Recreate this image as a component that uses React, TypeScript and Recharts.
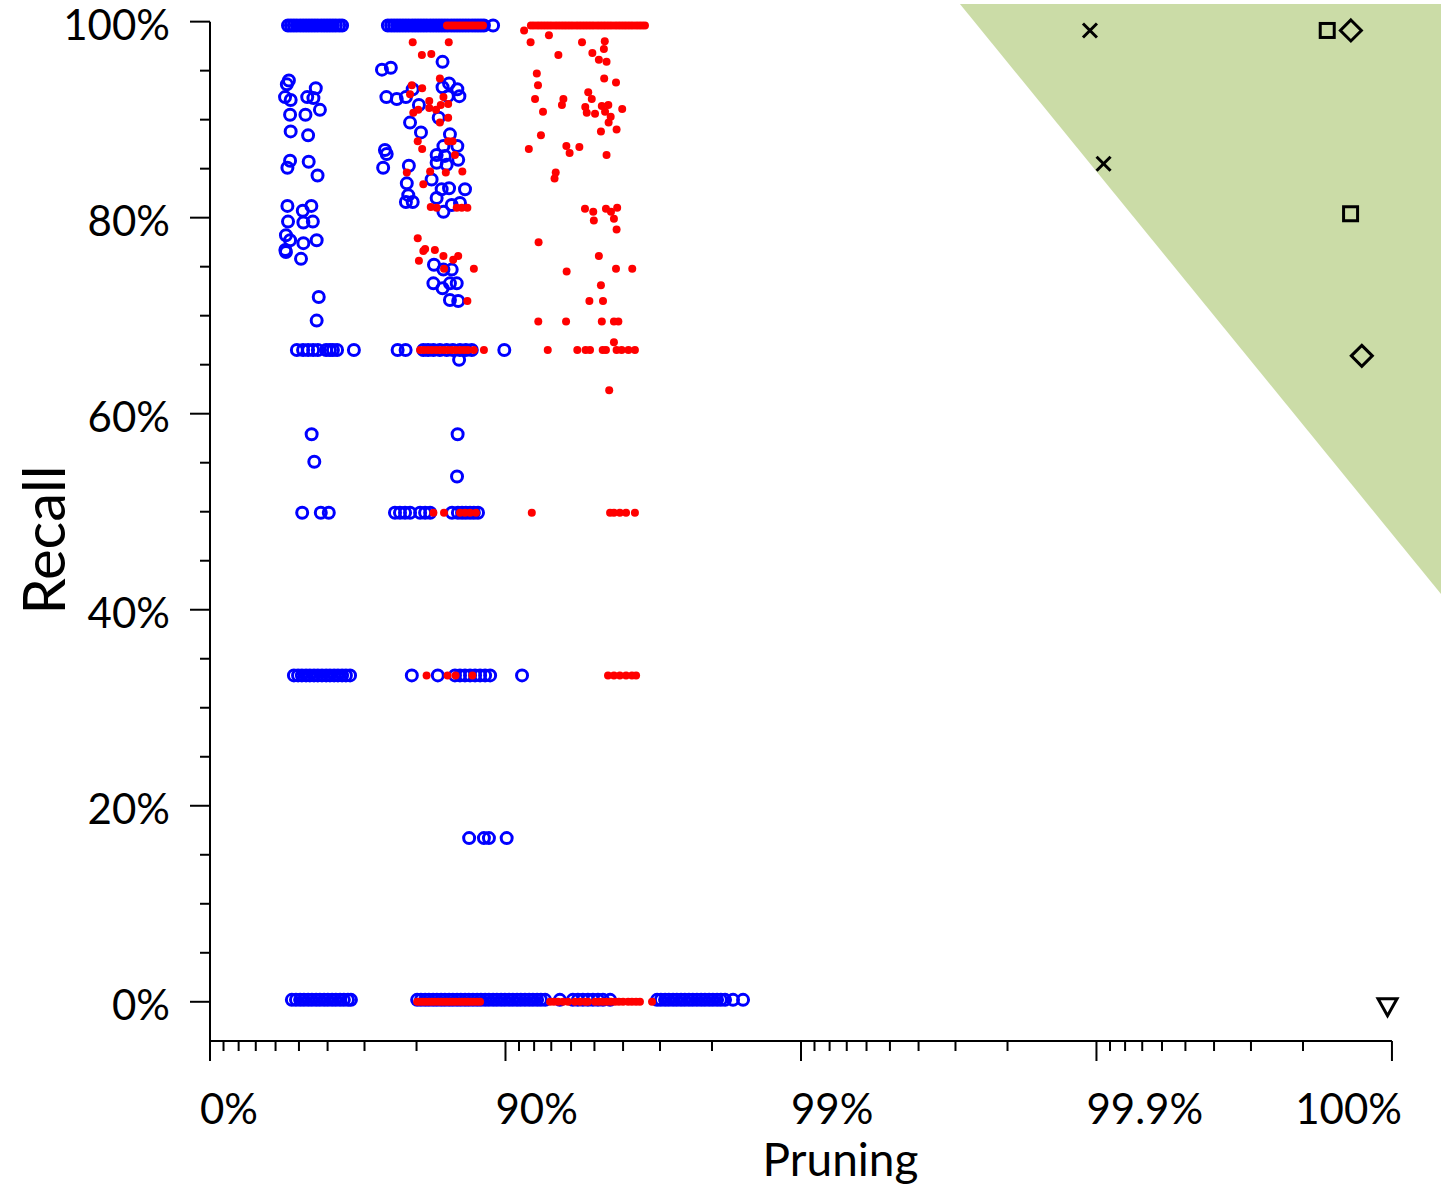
import { ScatterChart, Scatter, XAxis, YAxis, ReferenceArea, ReferenceLine } from 'recharts';

// x values are "nines" of pruning: 0 -> 0%, 1 -> 90%, 2 -> 99%, 3 -> 99.9%, 4 -> 100%
const majorTicks = [0, 1, 2, 3, 4];
const majorLabels = ['0%', '90%', '99%', '99.9%', '100%'];
const minorSteps = [0.1, 0.2, 0.3, 0.4, 0.5, 0.6, 0.7, 0.8];
const recallTicks = [0, 5, 10, 15, 20, 25, 30, 35, 40, 45, 50, 55, 60, 65, 70, 75, 80, 85, 90, 95, 100];

// recall levels of the horizontal bands
const TOP = 99.6;
const TWO_THIRDS = 66.5;
const HALF = 49.9;
const THIRD = 33.3;
const SIXTH = 16.7;
const ZERO_BLUE = 0.2;
const ZERO_RED = 0;

// blue open circles
const blueTop = [0.264, 0.274, 0.284, 0.294, 0.305, 0.315, 0.325, 0.335, 0.345, 0.355, 0.365, 0.376, 0.386, 0.396, 0.406, 0.416, 0.426, 0.437, 0.447, 0.602, 0.613, 0.623, 0.633, 0.643, 0.653, 0.663, 0.673, 0.684, 0.694, 0.704, 0.714, 0.724, 0.734, 0.745, 0.755, 0.765, 0.775, 0.785, 0.795, 0.805, 0.816, 0.826, 0.836, 0.846, 0.856, 0.866, 0.876, 0.887, 0.897, 0.907, 0.917, 0.927, 0.958];
const blueTwoThirds = [0.294, 0.315, 0.332, 0.349, 0.365, 0.393, 0.406, 0.416, 0.430, 0.487, 0.635, 0.662, 0.722, 0.738, 0.756, 0.778, 0.801, 0.822, 0.846, 0.866, 0.886, 0.996];
const blueHalf = [0.312, 0.375, 0.402, 0.626, 0.643, 0.660, 0.677, 0.711, 0.728, 0.745, 0.819, 0.839, 0.853, 0.866, 0.880, 0.893, 0.907];
const blueThird = [0.284, 0.298, 0.311, 0.325, 0.338, 0.352, 0.365, 0.379, 0.393, 0.406, 0.420, 0.433, 0.447, 0.460, 0.474, 0.683, 0.771, 0.829, 0.846, 0.863, 0.880, 0.897, 0.914, 0.931, 0.948, 1.056];
const blueSixth = [0.877, 0.927, 0.944, 1.004];
const blueZero = [0.277, 0.291, 0.305, 0.318, 0.332, 0.345, 0.359, 0.372, 0.386, 0.399, 0.413, 0.426, 0.440, 0.453, 0.467, 0.477, 0.701, 0.714, 0.728, 0.741, 0.755, 0.768, 0.782, 0.795, 0.809, 0.822, 0.836, 0.849, 0.863, 0.876, 0.890, 0.904, 0.917, 0.931, 0.944, 0.958, 0.971, 0.985, 0.998, 1.012, 1.025, 1.039, 1.052, 1.066, 1.080, 1.093, 1.107, 1.120, 1.134, 1.184, 1.228, 1.245, 1.262, 1.279, 1.296, 1.313, 1.330, 1.354, 1.513, 1.526, 1.540, 1.553, 1.567, 1.580, 1.594, 1.607, 1.621, 1.634, 1.648, 1.662, 1.675, 1.689, 1.702, 1.716, 1.729, 1.743, 1.770, 1.804];
const blueScatter: [number, number][] = [
  [0.267, 94.0], [0.260, 93.6], [0.254, 92.3], [0.273, 92.0], [0.271, 90.5], [0.273, 88.8], [0.271, 85.8], [0.262, 85.1],
  [0.358, 93.2], [0.329, 92.3], [0.350, 92.2], [0.372, 91.0], [0.323, 90.5], [0.332, 88.4], [0.334, 85.7], [0.364, 84.3],
  [0.262, 81.2], [0.314, 80.7], [0.343, 81.2], [0.264, 79.6], [0.316, 79.5], [0.348, 79.6], [0.257, 78.2], [0.271, 77.7],
  [0.316, 77.4], [0.361, 77.7], [0.255, 76.7], [0.308, 75.8], [0.257, 76.5], [0.368, 71.9], [0.361, 69.5], [0.344, 57.9], [0.353, 55.1],
  [0.582, 95.1], [0.612, 95.3], [0.787, 95.9], [0.597, 92.3], [0.632, 92.1], [0.663, 92.3], [0.686, 93.1], [0.707, 91.5],
  [0.677, 89.7], [0.714, 88.7], [0.774, 90.2], [0.809, 93.7], [0.787, 93.3], [0.837, 93.1], [0.844, 92.4], [0.805, 92.4],
  [0.592, 86.9], [0.598, 86.5], [0.586, 85.1], [0.673, 85.3], [0.812, 88.5], [0.790, 87.3], [0.837, 87.3], [0.767, 86.4],
  [0.795, 86.3], [0.840, 85.9], [0.767, 85.6], [0.801, 85.4], [0.666, 83.5], [0.750, 83.9], [0.784, 82.9], [0.809, 83.0],
  [0.863, 82.9], [0.671, 82.3], [0.767, 82.0], [0.663, 81.6], [0.686, 81.6], [0.818, 81.3], [0.846, 81.5], [0.790, 80.6],
  [0.758, 75.2], [0.790, 74.7], [0.756, 73.3], [0.787, 72.8], [0.812, 73.3], [0.835, 73.3], [0.812, 71.6], [0.840, 71.5],
  [0.818, 74.7], [0.843, 65.5], [0.838, 57.9], [0.836, 53.6],
];

// red filled dots
const redTop = [0.802, 0.812, 0.822, 0.832, 0.843, 0.853, 0.863, 0.873, 0.883, 0.893, 0.904, 0.914, 0.924, 1.086, 1.096, 1.107, 1.117, 1.127, 1.137, 1.147, 1.157, 1.168, 1.178, 1.188, 1.198, 1.208, 1.218, 1.228, 1.239, 1.249, 1.259, 1.269, 1.279, 1.289, 1.299, 1.310, 1.320, 1.330, 1.340, 1.350, 1.360, 1.371, 1.381, 1.391, 1.401, 1.411, 1.421, 1.431, 1.442, 1.452, 1.462, 1.472];
const redTwoThirds = [0.711, 0.724, 0.738, 0.751, 0.765, 0.778, 0.792, 0.805, 0.819, 0.832, 0.846, 0.860, 0.873, 0.893, 0.927, 1.143, 1.243, 1.271, 1.286, 1.329, 1.340, 1.376, 1.393, 1.416, 1.438];
const redHalf = [0.756, 0.792, 0.846, 0.863, 0.880, 0.900, 1.089, 1.354, 1.367, 1.387, 1.408, 1.438];
const redThird = [0.733, 0.804, 0.831, 0.888, 1.347, 1.367, 1.387, 1.408, 1.428, 1.442];
const redZero = [0.701, 0.711, 0.721, 0.731, 0.741, 0.751, 0.761, 0.772, 0.782, 0.792, 0.802, 0.812, 0.822, 0.832, 0.843, 0.853, 0.863, 0.873, 0.883, 0.893, 0.904, 0.914, 1.151, 1.164, 1.178, 1.195, 1.212, 1.235, 1.252, 1.269, 1.279, 1.303, 1.316, 1.330, 1.343, 1.357, 1.371, 1.384, 1.398, 1.415, 1.428, 1.442, 1.455, 1.496];
const redScatter: [number, number][] = [
  [1.063, 99.1],
  [0.686, 97.9], [0.808, 97.9], [0.717, 96.6], [0.749, 96.7], [0.778, 94.2], [0.683, 93.5], [0.718, 93.2], [0.677, 92.6],
  [0.742, 91.9], [0.742, 91.2], [0.790, 92.3], [0.781, 91.5], [0.806, 91.6], [0.705, 91.0], [0.688, 90.7], [0.765, 91.0],
  [0.806, 90.2], [0.778, 89.7], [0.703, 87.8], [0.718, 87.0], [0.806, 87.8], [0.821, 87.8], [0.829, 86.4], [0.666, 84.6],
  [0.745, 84.7], [0.798, 84.6], [0.854, 84.7], [0.722, 83.4], [0.747, 81.1], [0.767, 81.0], [0.835, 81.0], [0.852, 81.0],
  [0.871, 81.0], [0.703, 77.9], [0.728, 76.8], [0.761, 76.7], [0.790, 76.1], [0.840, 76.1], [0.707, 75.6], [0.722, 76.6],
  [0.823, 75.7], [0.893, 74.8], [0.871, 71.5], [0.792, 74.8],
  [1.085, 97.9], [1.147, 98.6], [1.259, 97.9], [1.336, 98.0], [1.333, 97.2], [1.179, 96.6], [1.294, 96.8], [1.316, 96.1],
  [1.342, 95.9], [1.106, 94.7], [1.334, 94.2], [1.374, 93.8], [1.110, 93.5], [1.100, 92.1], [1.196, 92.1], [1.191, 91.5],
  [1.280, 92.8], [1.292, 92.1], [1.270, 91.3], [1.275, 90.7], [1.303, 90.6], [1.326, 91.4], [1.348, 91.5], [1.337, 90.8],
  [1.356, 90.3], [1.349, 89.7], [1.395, 91.1], [1.127, 90.8], [1.323, 88.8], [1.376, 89.0], [1.120, 88.4], [1.079, 87.0],
  [1.206, 87.3], [1.217, 86.6], [1.250, 87.2], [1.342, 86.4], [1.170, 84.6], [1.166, 84.0], [1.269, 80.9], [1.297, 80.6],
  [1.299, 79.7], [1.340, 80.9], [1.357, 80.6], [1.378, 81.0], [1.367, 79.9], [1.376, 78.8], [1.112, 77.5], [1.316, 76.1],
  [1.207, 74.5], [1.374, 74.8], [1.429, 74.8], [1.323, 73.1], [1.284, 71.5], [1.330, 71.5], [1.111, 69.4], [1.205, 69.4],
  [1.326, 69.4], [1.367, 69.4], [1.382, 69.4], [1.367, 67.3], [1.351, 62.4],
];

// black reference methods
const crossPts: [number, number][] = [[2.978, 99.1], [3.024, 85.5]];
const squarePts: [number, number][] = [[3.781, 99.1], [3.860, 80.4]];
const diamondPts: [number, number][] = [[3.861, 99.1], [3.898, 65.9]];
const trianglePts: [number, number][] = [[3.985, -0.5]];

// green target region (triangle): left x, bottom recall
const greenLeft = 2.538;
const greenBottom = 41.6;

const X_MAX = 4.166;
const Y_MIN = -4;
const Y_MAX = 101.8;

const FONT = 'Lato, "Open Sans", sans-serif';

const row = (xs: number[], y: number) => xs.map((x) => ({ x, y }));
const pairs = (ps: [number, number][]) => ps.map(([x, y]) => ({ x, y }));

const bluePoints = [
  ...row(blueTop, TOP), ...row(blueTwoThirds, TWO_THIRDS), ...row(blueHalf, HALF),
  ...row(blueThird, THIRD), ...row(blueSixth, SIXTH), ...row(blueZero, ZERO_BLUE), ...pairs(blueScatter),
];
const redPoints = [
  ...row(redTop, TOP), ...row(redTwoThirds, TWO_THIRDS), ...row(redHalf, HALF),
  ...row(redThird, THIRD), ...row(redZero, ZERO_RED), ...pairs(redScatter),
];

const xTicks = majorTicks.flatMap((d) =>
  d < 4 ? [d, ...minorSteps.map((s) => d - Math.log10(1 - s))] : [d]
);

function XTick(props: any) {
  const { x, y, payload } = props;
  const i = majorTicks.indexOf(payload.value);
  const major = i >= 0;
  const last = i === majorTicks.length - 1;
  return (
    <g>
      <line x1={x} x2={x} y1={y} y2={y + (major ? 20 : 10)} stroke="#000" strokeWidth={2} />
      {major && (
        <text x={last ? x + 10 : x - 10} y={y + 83} textAnchor={last ? 'end' : 'start'}
          fontFamily={FONT} fontSize={42} fill="#000">
          {majorLabels[i]}
        </text>
      )}
    </g>
  );
}

function YTick(props: any) {
  const { x, y, payload } = props;
  const major = payload.value % 20 === 0;
  return (
    <g>
      <line x1={x - (major ? 20 : 10)} x2={x} y1={y} y2={y} stroke="#000" strokeWidth={2} />
      {major && (
        <text x={x - 40} y={y + 18} textAnchor="end" fontFamily={FONT} fontSize={42} fill="#000">
          {payload.value}%
        </text>
      )}
    </g>
  );
}

const BlueCircle = (p: any) => (
  <circle cx={p.cx} cy={p.cy} r={5.5} fill="none" stroke="#0000FF" strokeWidth={3} />
);
const RedDot = (p: any) => <circle cx={p.cx} cy={p.cy} r={4} fill="#FF0000" />;
const Cross = (p: any) => (
  <g stroke="#000" strokeWidth={3}>
    <line x1={p.cx - 7} y1={p.cy - 7} x2={p.cx + 7} y2={p.cy + 7} />
    <line x1={p.cx - 7} y1={p.cy + 7} x2={p.cx + 7} y2={p.cy - 7} />
  </g>
);
const Square = (p: any) => (
  <rect x={p.cx - 7} y={p.cy - 7} width={14} height={14} fill="none" stroke="#000" strokeWidth={3} />
);
const Diamond = (p: any) => (
  <polygon
    points={`${p.cx},${p.cy - 10.5} ${p.cx + 10.5},${p.cy} ${p.cx},${p.cy + 10.5} ${p.cx - 10.5},${p.cy}`}
    fill="none" stroke="#000" strokeWidth={3}
  />
);
const TriangleDown = (p: any) => (
  <polygon
    points={`${p.cx - 9.5},${p.cy - 8} ${p.cx + 9.5},${p.cy - 8} ${p.cx},${p.cy + 9}`}
    fill="none" stroke="#000" strokeWidth={3}
  />
);
const GreenTriangle = (p: any) => (
  <polygon
    points={`${p.x},${p.y} ${p.x + p.width},${p.y} ${p.x + p.width},${p.y + p.height}`}
    fill="#CBDCA7"
  />
);

export default function App() {
  return (
    <div style={{ position: 'absolute', left: 0, top: 0, background: '#fff' }}>
      <ScatterChart width={1441} height={1186} margin={{ top: 4, right: 0, bottom: 0, left: 0 }}>
        <XAxis
          type="number"
          dataKey="x"
          domain={[0, X_MAX]}
          ticks={xTicks}
          interval={0}
          allowDataOverflow
          axisLine={false}
          tickLine={false}
          tickSize={0}
          tickMargin={0}
          height={145}
          tick={<XTick />}
          label={{
            content: (lp: any) => (
              <text x={lp.viewBox.x + lp.viewBox.width / 2 + 15} y={lp.viewBox.y + lp.viewBox.height - 10}
                textAnchor="middle" fontFamily={FONT} fontSize={46} fill="#000">
                Pruning
              </text>
            ),
          }}
        />
        <YAxis
          type="number"
          dataKey="y"
          domain={[Y_MIN, Y_MAX]}
          ticks={recallTicks}
          interval={0}
          allowDataOverflow
          axisLine={false}
          tickLine={false}
          tickSize={0}
          tickMargin={0}
          width={210}
          tick={<YTick />}
          label={{
            content: () => (
              <text x={42} y={540} transform="rotate(-90 42 540)" textAnchor="middle"
                dominantBaseline="central" fontFamily={FONT} fontSize={58} fill="#000">
                Recall
              </text>
            ),
          }}
        />
        <ReferenceArea x1={greenLeft} x2={X_MAX} y1={greenBottom} y2={Y_MAX} shape={GreenTriangle} />
        <ReferenceLine segment={[{ x: 0, y: Y_MIN }, { x: 4, y: Y_MIN }]} stroke="#000" strokeWidth={2} />
        <ReferenceLine segment={[{ x: 0, y: Y_MIN }, { x: 0, y: 100 }]} stroke="#000" strokeWidth={2} />
        <Scatter data={bluePoints} shape={BlueCircle} isAnimationActive={false} />
        <Scatter data={redPoints} shape={RedDot} isAnimationActive={false} />
        <Scatter data={pairs(crossPts)} shape={Cross} isAnimationActive={false} />
        <Scatter data={pairs(squarePts)} shape={Square} isAnimationActive={false} />
        <Scatter data={pairs(diamondPts)} shape={Diamond} isAnimationActive={false} />
        <Scatter data={pairs(trianglePts)} shape={TriangleDown} isAnimationActive={false} />
      </ScatterChart>
    </div>
  );
}
